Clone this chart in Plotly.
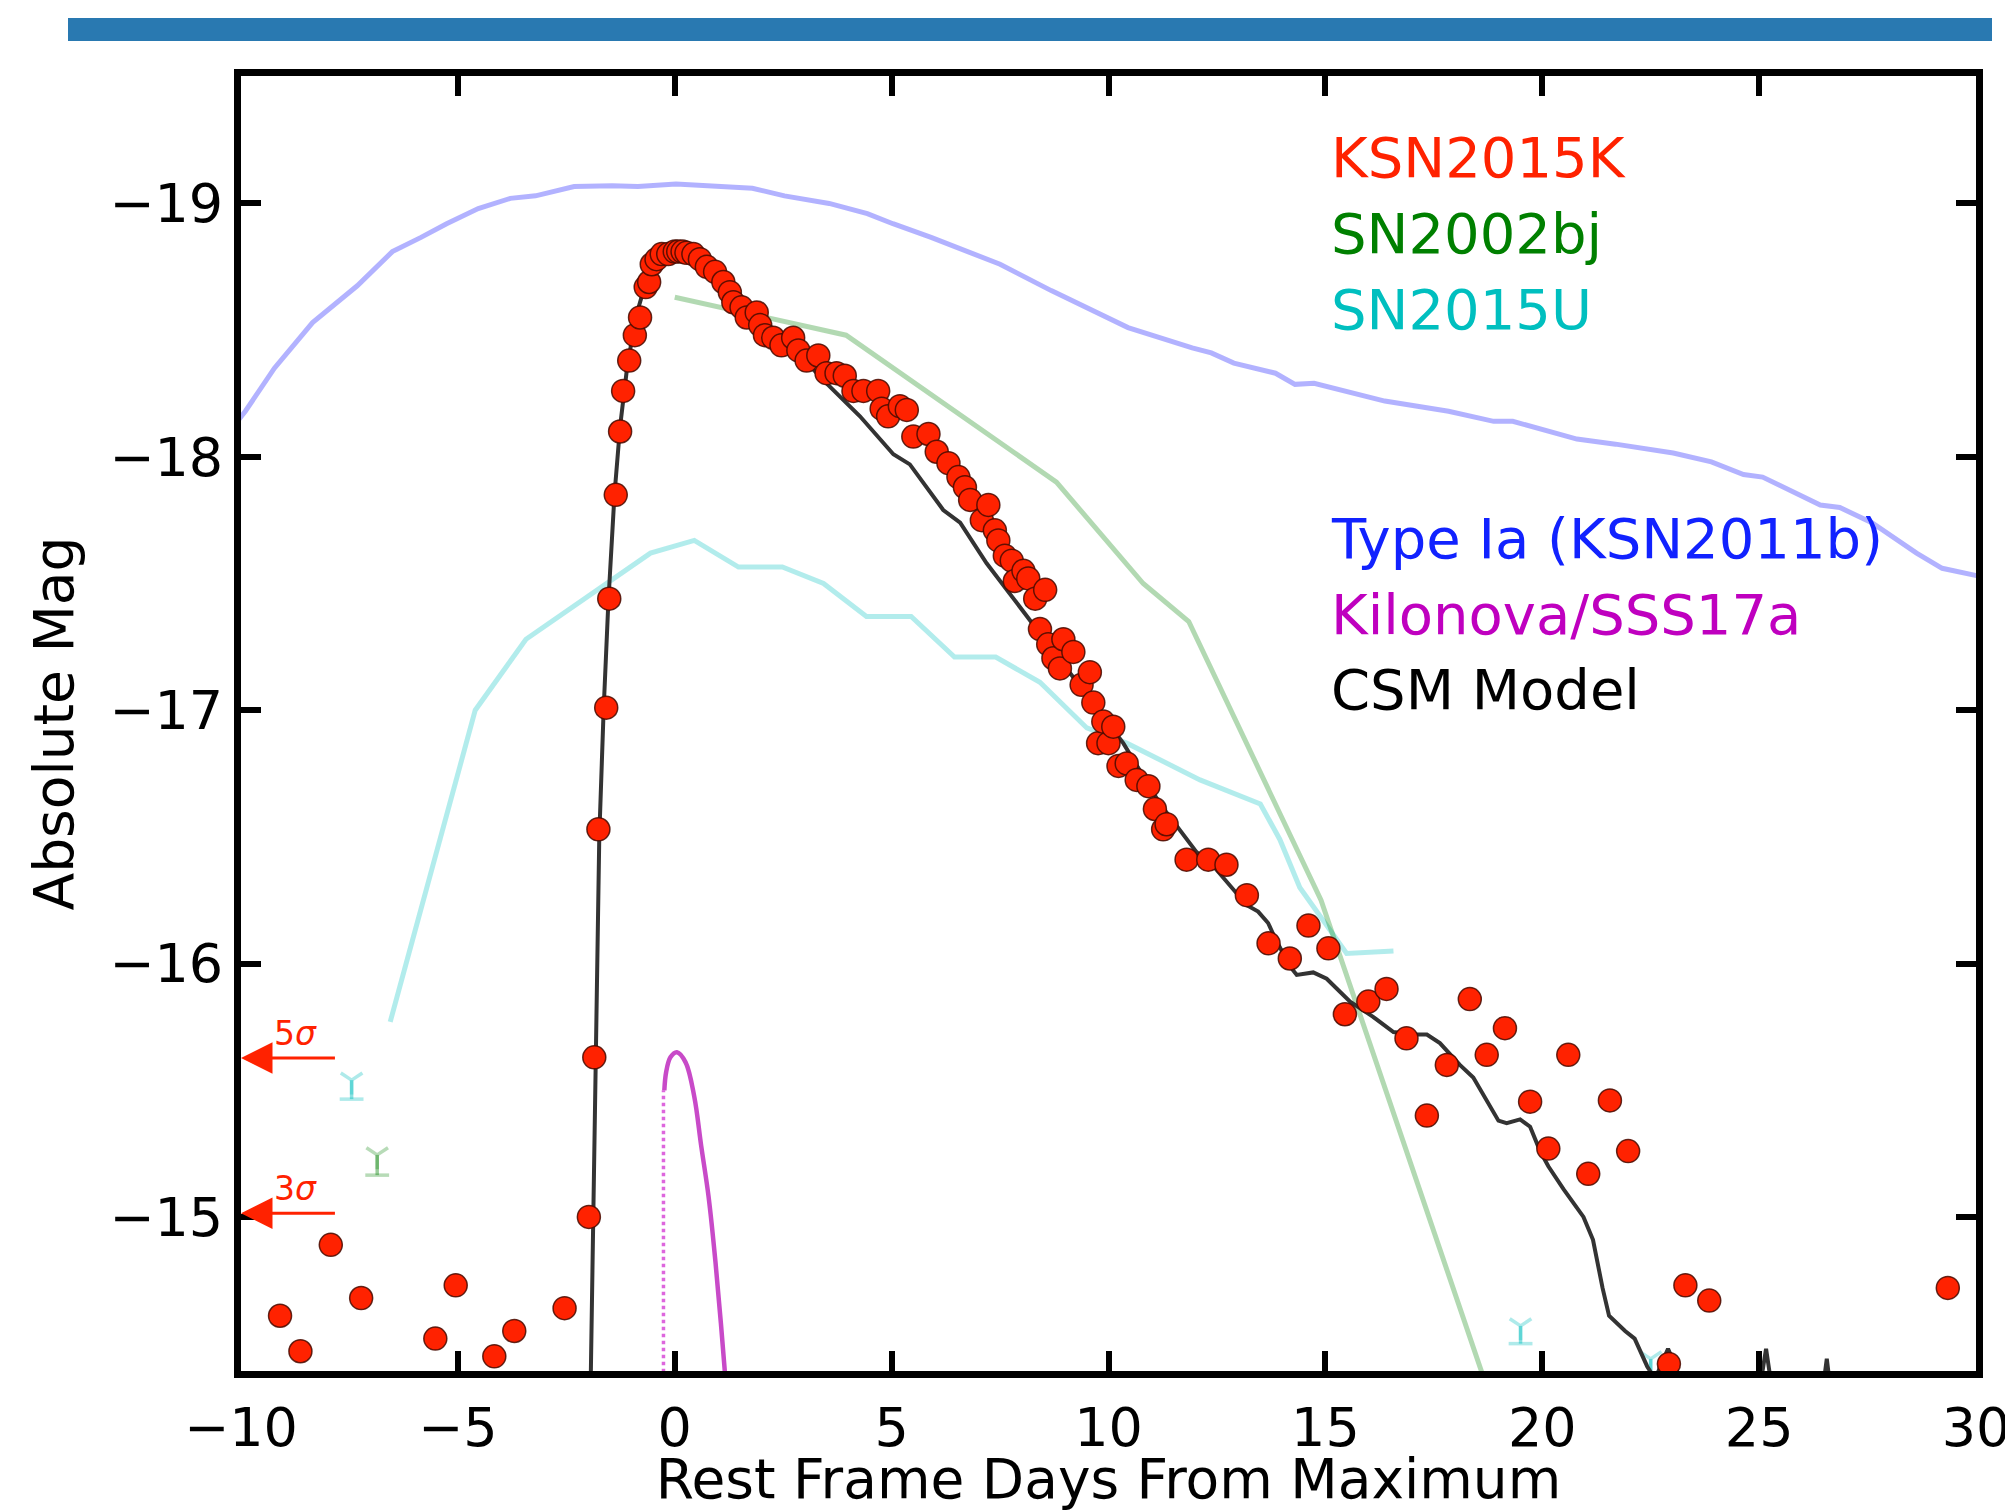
import plotly.graph_objects as go

# ---------------- data ----------------
ksn_day = [-9.10, -8.63, -7.93, -7.23, -5.52, -5.05, -4.16, -3.70, -2.54, -1.98,
           -1.855, -1.76, -1.58, -1.51, -1.36, -1.26, -1.19, -1.05, -0.92, -0.80,
           -0.67, -0.59, -0.53, -0.42, -0.30, -0.15, 0.00, 0.08, 0.18, 0.27,
           0.43, 0.58, 0.74, 0.93, 1.12, 1.27, 1.35, 1.54, 1.66, 1.89,
           1.97, 2.08, 2.27, 2.46, 2.73, 2.85, 3.04, 3.31, 3.50, 3.73,
           3.92, 4.12, 4.35, 4.69, 4.77, 4.92, 5.19, 5.35, 5.50, 5.85,
           6.04, 6.31, 6.54, 6.69, 6.81, 7.08, 7.23, 7.38, 7.46, 7.61,
           7.77, 7.84, 8.04, 8.15, 8.31, 8.54, 8.42, 8.61, 8.73, 8.88,
           8.96, 9.19, 9.38, 9.57, 9.65, 9.76, 9.88, 10.00, 10.11, 10.23,
           10.42, 10.65, 10.92, 11.07, 11.26, 11.34, 11.80, 12.30, 12.72, 13.19,
           13.69, 14.18, 14.61, 15.07, 15.45, 15.99, 16.41, 16.87, 17.34, 17.80,
           18.33, 18.72, 19.14, 19.72, 20.14, 20.60, 21.06, 21.56, 21.98, 22.92,
           23.30, 23.85, 29.35]
ksn_mag = [-14.61, -14.47, -14.89, -14.68, -14.52, -14.73, -14.45, -14.55, -14.64, -15.00,
           -15.63, -16.53, -17.01, -17.44, -17.85, -18.10, -18.26, -18.38, -18.48, -18.55,
           -18.67, -18.69, -18.76, -18.78, -18.80, -18.80, -18.81, -18.81, -18.81, -18.805,
           -18.80, -18.78, -18.75, -18.73, -18.69, -18.65, -18.61, -18.59, -18.55, -18.57,
           -18.52, -18.48, -18.47, -18.44, -18.47, -18.42, -18.38, -18.40, -18.33, -18.33,
           -18.32, -18.26, -18.26, -18.26, -18.19, -18.16, -18.20, -18.185, -18.08, -18.09,
           -18.02, -17.975, -17.92, -17.88, -17.83, -17.75, -17.81, -17.71, -17.67, -17.61,
           -17.59, -17.51, -17.55, -17.52, -17.44, -17.475, -17.32, -17.26, -17.205, -17.165,
           -17.28, -17.23, -17.10, -17.15, -17.03, -16.87, -16.955, -16.87, -16.935, -16.78,
           -16.79, -16.725, -16.70, -16.61, -16.53, -16.55, -16.41, -16.41, -16.39, -16.27,
           -16.08, -16.02, -16.15, -16.06, -15.80, -15.85, -15.90, -15.705, -15.40, -15.60,
           -15.86, -15.64, -15.745, -15.455, -15.27, -15.64, -15.17, -15.46, -15.26, -14.42,
           -14.73, -14.67, -14.72]

csm_day = [-1.97, -1.88, -1.82, -1.74, -1.64, -1.53, -1.39, -1.26, -1.10, -0.90,
           -0.65, -0.35, 0.00, 0.40, 0.90, 1.50, 2.20, 3.00, 3.50, 4.27,
           5.04, 5.42, 6.19, 6.58, 7.19, 7.50, 8.19, 9.27, 10.34, 11.19,
           12.03, 12.46, 13.19, 13.45, 13.68, 13.84, 14.18, 14.34, 14.72, 15.03,
           15.57, 16.10, 16.57, 17.03, 17.34, 17.64, 18.10, 18.41, 18.72, 18.99,
           19.18, 19.49, 19.72, 19.95, 20.14, 20.49, 20.95, 21.17, 21.39, 21.54,
           21.91, 22.13, 22.42, 22.60, 22.75, 22.90, 23.05, 23.30, 24.90, 25.16,
           25.40, 26.30, 26.56, 26.80, 28.00]
csm_mag = [-14.00, -15.00, -15.60, -16.50, -17.00, -17.43, -17.85, -18.12, -18.35, -18.55,
           -18.70, -18.78, -18.80, -18.79, -18.73, -18.60, -18.49, -18.38, -18.29, -18.16,
           -18.01, -17.97, -17.79, -17.74, -17.58, -17.51, -17.35, -17.11, -16.87, -16.63,
           -16.44, -16.376, -16.23, -16.205, -16.16, -16.10, -15.99, -15.955, -15.965, -15.94,
           -15.85, -15.79, -15.73, -15.72, -15.72, -15.686, -15.60, -15.55, -15.46, -15.38,
           -15.37, -15.385, -15.356, -15.26, -15.20, -15.11, -15.00, -14.91, -14.72, -14.61,
           -14.55, -14.52, -14.41, -14.36, -14.42, -14.48, -14.42, -14.30, -14.20, -14.48,
           -14.20, -14.10, -14.44, -14.10, -14.00]

ia_day = [-10.5, -9.90, -9.23, -8.35, -7.32, -6.51, -5.85, -5.26, -4.53, -3.79,
          -3.21, -2.32, -1.44, -0.85, 0.03, 0.91, 1.79, 2.53, 3.56, 4.44,
          5.03, 5.91, 6.79, 7.50, 8.68, 10.45, 11.93, 12.37, 12.89, 13.85,
          14.30, 14.74, 16.37, 17.84, 18.88, 19.32, 20.80, 21.69, 23.02, 23.90,
          24.64, 25.08, 26.41, 26.86, 27.60, 28.63, 29.22, 30.04]
ia_mag = [-18.05, -18.18, -18.35, -18.53, -18.675, -18.81, -18.866, -18.92, -18.98, -19.02,
          -19.03, -19.067, -19.07, -19.067, -19.077, -19.07, -19.06, -19.03, -19.00, -18.96,
          -18.92, -18.866, -18.81, -18.76, -18.656, -18.51, -18.43, -18.41, -18.37, -18.33,
          -18.286, -18.29, -18.22, -18.18, -18.14, -18.14, -18.07, -18.05, -18.015, -17.98,
          -17.93, -17.92, -17.81, -17.80, -17.74, -17.62, -17.56, -17.53]

bj_day = [0.00, 3.95, 8.80, 10.80, 11.85, 14.90, 18.60, 20.00]
bj_mag = [-18.63, -18.48, -17.90, -17.50, -17.35, -16.25, -14.39, -13.69]

u_day = [-6.56, -4.60, -3.43, -0.56, 0.45, 1.47, 2.48, 3.43, 4.42, 5.45,
         6.45, 7.40, 8.42, 9.50, 10.42, 12.11, 13.50, 13.95, 14.41, 15.49, 16.57]
u_mag = [-15.77, -17.00, -17.28, -17.62, -17.67, -17.565, -17.565, -17.50, -17.37, -17.37,
         -17.21, -17.21, -17.11, -16.93, -16.87, -16.725, -16.63, -16.49, -16.30, -16.04, -16.05]

kn_day = [-0.24, -0.20, -0.10, 0.05, 0.25, 0.45, 0.61, 0.78, 0.94, 1.15, 1.30]
kn_mag = [-15.50, -15.57, -15.63, -15.65, -15.61, -15.475, -15.28, -15.08, -14.82, -14.40, -14.05]
kn_dot_day = [-0.26, -0.26]
kn_dot_mag = [-14.00, -15.50]

# upper limits (arrows) at the left
lim_labels = ["5", "3"]
lim_mag = [-15.627, -15.015]
lim_from_day = -7.8
lim_to_day = -10.0

# non-detection markers (top, bottom) for comparison SNe
u_lim_day = [-7.45, 19.50, 22.50]
u_lim_top = [-15.54, -14.57, -14.44]
u_lim_bot = [-15.465, -14.50, -14.35]
bj_lim_day = [-6.86]
bj_lim_top = [-15.245]
bj_lim_bot = [-15.165]

x_ticks = [-10, -5, 0, 5, 10, 15, 20, 25, 30]
y_ticks = [-19, -18, -17, -16, -15]

legend_names = ["KSN2015K", "SN2002bj", "SN2015U", "Type Ia (KSN2011b)", "Kilonova/SSS17a", "CSM Model"]
legend_colors = ["#ff2200", "#008000", "#00bfbf", "#1122ff", "#bf00bf", "#000000"]

# ---------------- layout geometry ----------------
W, H = 2005, 1511
L, R, T, B = 241, 29, 76, 140
PW, PH = W - L - R, H - T - B
FONT = "DejaVu Sans"


def px(X):
    return (X - L) / PW


def py(Y):
    return (H - B - Y) / PH


fig = go.Figure()

fig.add_trace(go.Scatter(x=ia_day, y=ia_mag, mode="lines",
                         line=dict(color="rgba(0,0,255,0.3)", width=5), hoverinfo="skip"))
fig.add_trace(go.Scatter(x=u_day, y=u_mag, mode="lines",
                         line=dict(color="rgba(0,191,191,0.3)", width=5), hoverinfo="skip"))
fig.add_trace(go.Scatter(x=bj_day, y=bj_mag, mode="lines",
                         line=dict(color="rgba(0,128,0,0.3)", width=5), hoverinfo="skip"))

for d, t, b in zip(u_lim_day, u_lim_top, u_lim_bot):
    fig.add_trace(go.Scatter(x=[d, d], y=[t, b], mode="lines+markers",
                             line=dict(color="rgba(0,191,191,0.45)", width=3.5),
                             marker=dict(symbol=["y-down", "line-ew"], size=[18, 17],
                                         line=dict(color="rgba(0,191,191,0.45)", width=3.5)),
                             hoverinfo="skip"))
for d, t, b in zip(bj_lim_day, bj_lim_top, bj_lim_bot):
    fig.add_trace(go.Scatter(x=[d, d], y=[t, b], mode="lines+markers",
                             line=dict(color="rgba(0,128,0,0.4)", width=3.5),
                             marker=dict(symbol=["y-down", "line-ew"], size=[18, 17],
                                         line=dict(color="rgba(0,128,0,0.4)", width=3.5)),
                             hoverinfo="skip"))

fig.add_trace(go.Scatter(x=kn_dot_day, y=kn_dot_mag, mode="lines",
                         line=dict(color="#dd66dd", width=3.5, dash="dot"), hoverinfo="skip"))
fig.add_trace(go.Scatter(x=kn_day, y=kn_mag, mode="lines",
                         line=dict(color="#c84ac8", width=4.5, shape="spline"), hoverinfo="skip"))

fig.add_trace(go.Scatter(x=csm_day, y=csm_mag, mode="lines",
                         line=dict(color="#333333", width=4), hoverinfo="skip"))

fig.add_trace(go.Scatter(x=ksn_day, y=ksn_mag, mode="markers",
                         marker=dict(color="#ff2200", size=23,
                                     line=dict(color="rgba(70,10,0,0.85)", width=1.5)),
                         hoverinfo="skip"))

# limit arrows and labels
for lab, m in zip(lim_labels, lim_mag):
    fig.add_annotation(x=lim_to_day, y=m, ax=lim_from_day, ay=m, xref="x", yref="y",
                       axref="x", ayref="y", text="", showarrow=True, arrowhead=2,
                       arrowsize=2.1, arrowwidth=3, arrowcolor="#ff2200")
    fig.add_annotation(x=-9.28, y=m, xref="x", yref="y", xanchor="left", yanchor="bottom",
                       yshift=3, showarrow=False, text=lab + "<i>σ</i>",
                       font=dict(family=FONT, size=33, color="#ff2200"))

# text legend
leg_y = [157.6, 233, 309.6, 538, 614.5, 689.5]
for name, col, Y in zip(legend_names, legend_colors, leg_y):
    fig.add_annotation(x=px(1329), y=py(Y), xref="paper", yref="paper", xanchor="left",
                       yanchor="middle", showarrow=False, text=name,
                       font=dict(family=FONT, size=56, color=col))

# blue header bar
fig.add_shape(type="rect", xref="paper", yref="paper", x0=px(68), x1=px(1992),
              y0=py(41), y1=py(18), fillcolor="#2979b1", line=dict(width=0), layer="above")

axis_common = dict(showline=True, linewidth=7, linecolor="black", mirror="allticks",
                   ticks="inside", ticklen=20, tickwidth=6, tickcolor="black",
                   showgrid=False, zeroline=False, ticklabeloverflow="allow",
                   automargin=False,
                   tickfont=dict(family=FONT, size=54, color="black"))

fig.update_layout(
    width=W, height=H, margin=dict(l=L, r=R, t=T, b=B, autoexpand=False),
    paper_bgcolor="white", plot_bgcolor="white", showlegend=False,
    xaxis=dict(range=[-10, 30], tickvals=x_ticks, ticklabelstandoff=3,
               title=dict(text="Rest Frame Days From Maximum", standoff=8,
                          font=dict(family=FONT, size=55, color="black")),
               **axis_common),
    yaxis=dict(range=[-14.392, -19.503], tickvals=y_ticks,
               title=dict(text="Absolute Mag", standoff=20,
                          font=dict(family=FONT, size=55, color="black")),
               **axis_common),
)

fig.write_html("out.html")
